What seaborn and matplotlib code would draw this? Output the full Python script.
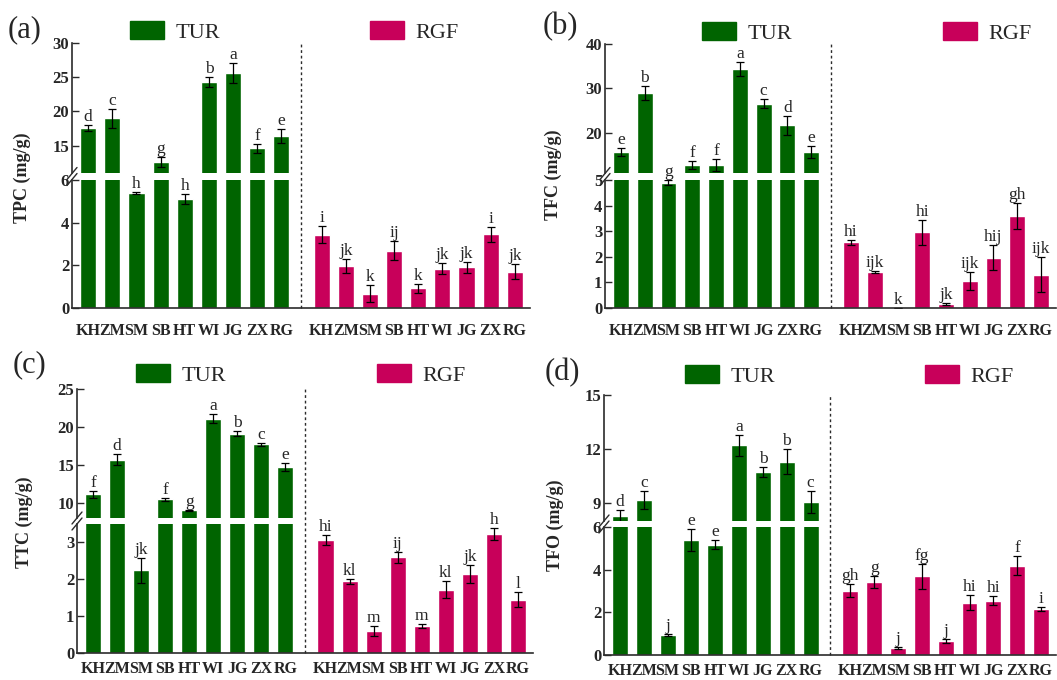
import numpy as np
import pandas as pd
import matplotlib
matplotlib.use("Agg")
import matplotlib.pyplot as plt
from matplotlib.lines import Line2D
from matplotlib.patches import Patch
from matplotlib.transforms import blended_transform_factory
import seaborn as sns

# sites (same order for both groups)
sites = ["KH", "ZM", "SM", "SB", "HT", "WI", "JG", "ZX", "RG"]

# (a) TPC
tpc_tur = [17.6, 19.0, 5.4, 12.6, 5.1, 24.3, 25.6, 14.6, 16.4]
tpc_tur_sd = [0.4, 1.4, 0.05, 0.7, 0.23, 0.8, 1.5, 0.7, 1.0]
tpc_rgf = [3.43, 1.95, 0.67, 2.68, 0.92, 1.84, 1.90, 3.46, 1.71]
tpc_rgf_sd = [0.4, 0.33, 0.4, 0.45, 0.2, 0.25, 0.25, 0.35, 0.35]
tpc_tur_let = ["d", "c", "h", "g", "h", "b", "a", "f", "e"]
tpc_rgf_let = ["i", "jk", "k", "ij", "k", "jk", "jk", "i", "jk"]

# (b) TFC
tfc_tur = [15.7, 29.0, 4.9, 12.8, 12.8, 34.3, 26.6, 21.7, 15.7]
tfc_tur_sd = [0.9, 1.6, 0.1, 1.0, 1.3, 1.6, 1.1, 2.2, 1.3]
tfc_rgf = [2.56, 1.40, 0.0, 2.95, 0.17, 1.04, 1.97, 3.60, 1.30]
tfc_rgf_sd = [0.08, 0.05, 0.0, 0.47, 0.04, 0.35, 0.49, 0.52, 0.68]
tfc_tur_let = ["e", "b", "g", "f", "f", "a", "c", "d", "e"]
tfc_rgf_let = ["hi", "ijk", "k", "hi", "jk", "ijk", "hij", "gh", "ijk"]

# (c) TTC
ttc_tur = [11.1, 15.7, 2.24, 10.5, 9.0, 21.1, 19.1, 17.7, 14.7]
ttc_tur_sd = [0.5, 0.7, 0.34, 0.2, 0.1, 0.6, 0.3, 0.2, 0.5]
ttc_rgf = [3.07, 1.94, 0.59, 2.60, 0.74, 1.72, 2.14, 3.23, 1.45]
ttc_rgf_sd = [0.13, 0.06, 0.13, 0.15, 0.06, 0.24, 0.25, 0.17, 0.21]
ttc_tur_let = ["f", "d", "jk", "f", "g", "a", "b", "c", "e"]
ttc_rgf_let = ["hi", "kl", "m", "ij", "m", "kl", "jk", "h", "l"]

# (d) TFO
tfo_tur = [8.26, 9.19, 0.94, 5.38, 5.17, 12.2, 10.7, 11.3, 9.05]
tfo_tur_sd = [0.37, 0.5, 0.05, 0.52, 0.2, 0.6, 0.28, 0.7, 0.6]
tfo_rgf = [3.02, 3.42, 0.34, 3.68, 0.67, 2.46, 2.55, 4.18, 2.15]
tfo_rgf_sd = [0.3, 0.27, 0.05, 0.57, 0.1, 0.33, 0.2, 0.45, 0.1]
tfo_tur_let = ["d", "c", "j", "e", "e", "a", "b", "b", "c"]
tfo_rgf_let = ["gh", "g", "j", "fg", "j", "hi", "hi", "f", "i"]

W, H = 1057, 680
GREEN = "#006400"
PINK = "#C8005A"
SPINE = "#2b2b2b"

tur_pos = np.arange(9)
rgf_pos = np.arange(9) + 9.67
sep_x = 8.83

sns.set_theme(style="ticks")
plt.rcParams["font.family"] = ["Liberation Serif", "DejaVu Serif"]

fig = plt.figure(figsize=(W / 100, H / 100), dpi=100)


def fbox(left, right, top, bottom):
    # pixels -> figure fraction
    return [left / W, 1 - bottom / H, (right - left) / W, (bottom - top) / H]


def panel(tur, tur_sd, rgf, rgf_sd, tur_let, rgf_let, ylabel, tag,
          left, right, up_px, lo_px, up_lim, up_ticks, lo_lim, lo_ticks,
          leg_y, leg_tur_x, leg_rgf_x, tag_xy, ylab_xy, xpad):
    ax_up = fig.add_axes(fbox(left, right, up_px[0], up_px[1]))
    ax_lo = fig.add_axes(fbox(left, right, lo_px[0], lo_px[1]))

    df = pd.DataFrame({
        "pos": np.concatenate([tur_pos, rgf_pos]),
        "value": tur + rgf,
        "group": ["TUR"] * 9 + ["RGF"] * 9,
    })
    sd = np.array(tur_sd + rgf_sd)

    for ax in (ax_up, ax_lo):
        sns.barplot(data=df, x="pos", y="value", hue="group",
                    palette={"TUR": GREEN, "RGF": PINK}, native_scale=True,
                    orient="x", width=0.67, dodge=False, errorbar=None,
                    saturation=1, legend=False, ax=ax)
        ax.errorbar(df["pos"], df["value"], yerr=sd, fmt="none",
                    ecolor="black", elinewidth=0.9, capsize=3.2, capthick=0.9)
        ax.set_xlim(-0.67, 18.3)
        ax.set_xlabel("")
        ax.set_ylabel("")
        for s in ("top", "right"):
            ax.spines[s].set_visible(False)
        ax.spines["left"].set_color(SPINE)
        ax.spines["left"].set_linewidth(1.2)
        ax.tick_params(axis="y", direction="in", length=5, width=1,
                       color=SPINE, pad=2)

    ax_up.set_ylim(*up_lim)
    ax_lo.set_ylim(*lo_lim)
    ax_up.set_yticks(up_ticks, labels=[str(t) for t in up_ticks],
                     fontweight="bold", fontsize=12)
    ax_lo.set_yticks(lo_ticks, labels=[str(t) for t in lo_ticks],
                     fontweight="bold", fontsize=12)
    ax_up.spines["bottom"].set_visible(False)
    ax_up.set_xticks([])
    ax_lo.spines["bottom"].set_color(SPINE)
    ax_lo.spines["bottom"].set_linewidth(1.2)
    ax_lo.set_xticks(df["pos"], labels=sites + sites, fontweight="bold",
                     fontsize=11.5)
    ax_lo.tick_params(axis="x", length=0, pad=xpad)

    # significance letters
    vals = tur + rgf
    lets = tur_let + rgf_let
    for x, v, e, t in zip(df["pos"], vals, sd, lets):
        ax = ax_up if v > lo_lim[1] else ax_lo
        ax.annotate(t, (x, v + e), xytext=(0, 0), textcoords="offset points",
                    ha="center", va="bottom", fontsize=12.5,
                    annotation_clip=False)

    # dashed separator through both parts
    trans = blended_transform_factory(ax_lo.transData, fig.transFigure)
    fig.add_artist(Line2D([sep_x, sep_x], [1 - lo_px[1] / H, 1 - up_px[0] / H],
                          transform=trans, color=SPINE, lw=1, ls=(0, (2, 2))))

    # axis break marks
    yc = (up_px[1] + lo_px[0]) / 2
    for d in (-3, 3):
        fig.add_artist(Line2D([(left - 5) / W, (left + 5) / W],
                              [1 - (yc + 6 + d) / H, 1 - (yc - 6 + d) / H],
                              transform=fig.transFigure, color=SPINE, lw=1))

    # legends
    for lab, col, lx in (("TUR", GREEN, leg_tur_x), ("RGF", PINK, leg_rgf_x)):
        fig.legend(handles=[Patch(facecolor=col, edgecolor=col, label=lab)],
                   loc="center left", bbox_to_anchor=(lx / W, 1 - leg_y / H),
                   frameon=False, fontsize=16, handlelength=1.55,
                   handleheight=0.86, handletextpad=0.5, borderpad=0,
                   borderaxespad=0)

    fig.text(tag_xy[0] / W, 1 - tag_xy[1] / H, tag, fontsize=22,
             ha="left", va="center")
    fig.text(ylab_xy[0] / W, 1 - ylab_xy[1] / H, ylabel, rotation=90,
             ha="center", va="center", fontweight="bold", fontsize=13)


panel(tpc_tur, tpc_tur_sd, tpc_rgf, tpc_rgf_sd, tpc_tur_let, tpc_rgf_let,
      "TPC (mg/g)", "(a)", 72, 530, (43, 173), (180, 308),
      (11, 30), [15, 20, 25, 30], (0, 6), [0, 2, 4, 6],
      32, 130, 370, (8, 30), (22, 178), 11)

panel(tfc_tur, tfc_tur_sd, tfc_rgf, tfc_rgf_sd, tfc_tur_let, tfc_rgf_let,
      "TFC (mg/g)", "(b)", 605, 1056, (44, 173), (180, 308),
      (11, 40), [20, 30, 40], (0, 5), [0, 1, 2, 3, 4, 5],
      33, 702, 943, (543, 27), (553, 175), 11)

panel(ttc_tur, ttc_tur_sd, ttc_rgf, ttc_rgf_sd, ttc_tur_let, ttc_rgf_let,
      "TTC (mg/g)", "(c)", 77, 533, (389, 518), (524, 653),
      (8, 25), [10, 15, 20, 25], (0, 3.5), [0, 1, 2, 3],
      375, 136, 377, (13, 365), (24, 522), 6)

panel(tfo_tur, tfo_tur_sd, tfo_rgf, tfo_rgf_sd, tfo_tur_let, tfo_rgf_let,
      "TFO (mg/g)", "(d)", 604, 1056, (395, 521), (527, 655),
      (8, 15), [9, 12, 15], (0, 6), [0, 2, 4, 6],
      376, 685, 925, (545, 373), (555, 525), 6)

fig.savefig("out.png", dpi=100)
